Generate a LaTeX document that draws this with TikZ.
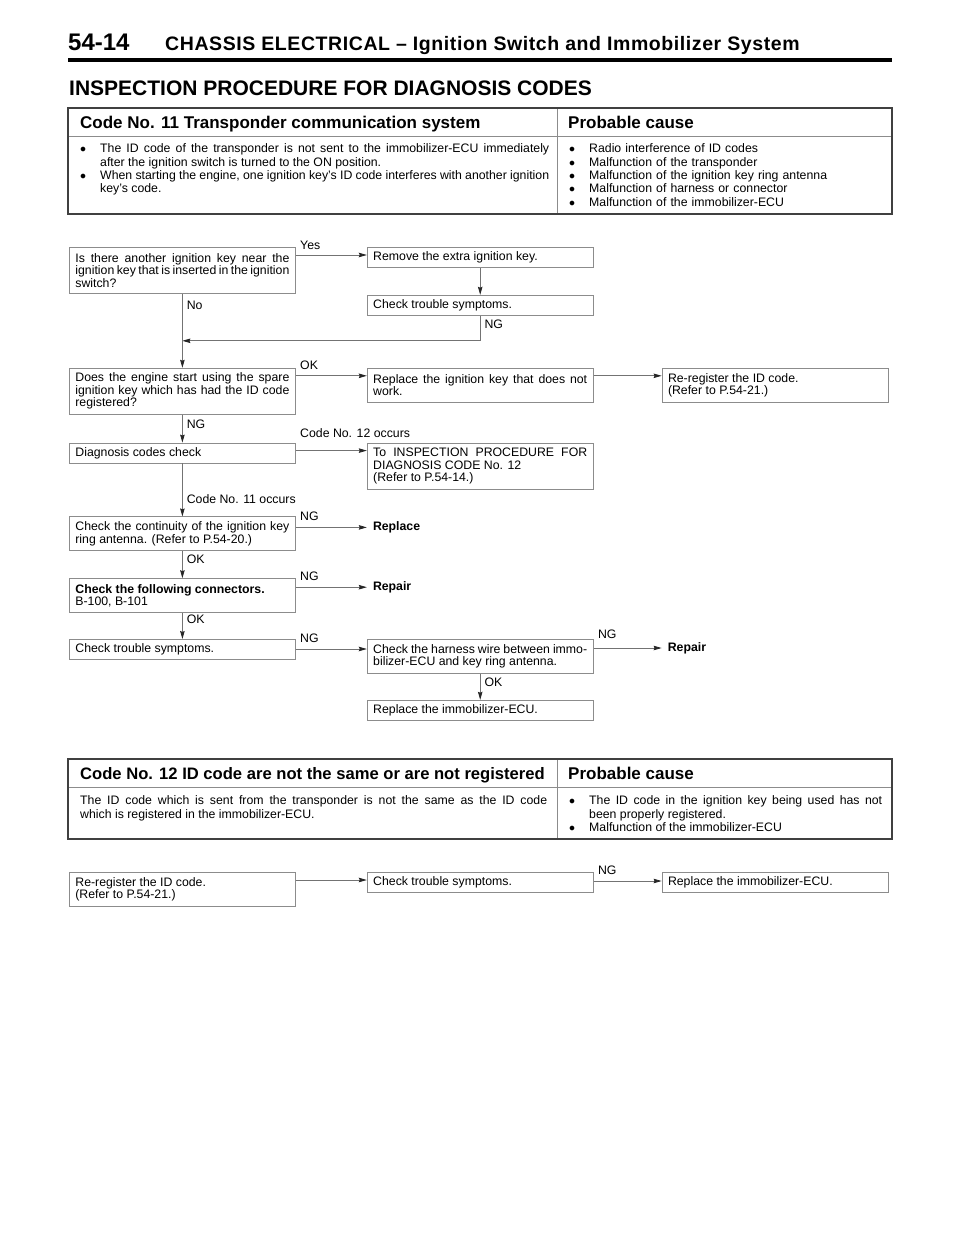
\documentclass[tikz,border=0pt]{standalone}
\usepackage{fontspec}
\setmainfont{Liberation Sans}
\newfontfamily\titlefont[LetterSpace=3.0]{Liberation Sans}
\usetikzlibrary{arrows.meta, positioning}

\newcommand{\flowsize}{\fontsize{12.3}{12.5}\selectfont}
\newcommand{\tablesize}{\fontsize{12.3}{13.4}\selectfont}
\newcommand{\headsize}{\fontsize{17}{20}\selectfont\bfseries}
\newcommand{\causeitem}{\noindent\hangindent=20pt\hangafter=1\makebox[20pt][l]{$\bullet$}}

\begin{document}
\begin{tikzpicture}[x=1pt, y=-1pt]
	\tikzstyle{Box} = [rectangle, draw=black!45, line width=0.8pt, text width=214pt, inner xsep=6pt, inner ysep=3pt, minimum height=20pt, align=justify, font=\flowsize]
	\tikzstyle{BoxTwo} = [Box, minimum height=34pt]
	\tikzstyle{BoxThree} = [Box, minimum height=46pt]
	\tikzstyle{Result} = [rectangle, inner xsep=6pt, inner ysep=2pt, font=\flowsize\bfseries]
	\tikzstyle{HLabel} = [anchor=base west, inner sep=0pt, xshift=4pt, yshift=7pt, font=\flowsize]
	\tikzstyle{VLabel} = [anchor=base west, inner sep=0pt, xshift=4pt, font=\flowsize]
	\tikzstyle{TableHead} = [anchor=base west, inner sep=0pt, font=\headsize]
	\tikzstyle{TableText} = [anchor=north west, inner sep=0pt, align=justify, font=\tablesize]
	\tikzstyle{TableFrame} = [draw=black!75, line width=1.6pt]
	\tikzstyle{TableRule} = [draw=black!45, line width=0.8pt]
	\tikzstyle{arrow} = [draw=black!55, line width=0.8pt, -{Stealth[length=8pt, width=4.5pt, inset=1pt, color=black!85]}]
	
	\fill[white] (0,0) rectangle (960,1242);
	\useasboundingbox (0,0) rectangle (960,1242);
	
	\node (pageNumber) [anchor=base west, inner sep=0pt, font=\fontsize{24}{28}\selectfont\bfseries] at (68,50) {54-14};
	\node (pageTitle) [anchor=base west, inner sep=0pt, font=\titlefont\fontsize{19.5}{22}\selectfont\bfseries] at (165,50) {CHASSIS ELECTRICAL – Ignition Switch and Immobilizer System};
	\draw[line width=3.5pt] (68,60) -- (892,60);
	\node (sectionTitle) [anchor=base west, inner sep=0pt, font=\fontsize{21}{24}\selectfont\bfseries] at (69,95) {INSPECTION PROCEDURE FOR DIAGNOSIS CODES};
	
	% Code No. 11 table
	\draw[TableRule] (68,136) -- (892,136);
	\draw[TableRule] (557,108) -- (557,214);
	\draw[TableFrame] (68,108) rectangle (892,214);
	\node (code11Head) [TableHead] at (80,128) {Code No. 11 Transponder communication system};
	\node (cause11Head) [TableHead] at (568,128) {Probable cause};
	\node (code11Text) [TableText, text width=469pt] at (80,143.5) {\causeitem The ID code of the transponder is not sent to the immobilizer-ECU immediately\linebreak after the ignition switch is turned to the ON position.\par
		\causeitem When starting the engine, one ignition key’s ID code interferes with another ignition\linebreak key’s code.\par};
	\node (cause11Text) [TableText, text width=313pt, align=left] at (569,143.5) {\causeitem Radio interference of ID codes\par
		\causeitem Malfunction of the transponder\par
		\causeitem Malfunction of the ignition key ring antenna\par
		\causeitem Malfunction of harness or connector\par
		\causeitem Malfunction of the immobilizer-ECU\par};
	
	\node (otherKey) [BoxThree, anchor=north west] at (69,247) {Is there another ignition key near the\linebreak ignition key that is inserted in the ignition\linebreak switch?};
	\node (removeKey) [Box, right = 71pt of otherKey.north east, anchor=north west] {Remove the extra ignition key.};
	\node (checkSymptoms1) [Box, below = 27pt of removeKey] {Check trouble symptoms.};
	\coordinate [below = 47pt of otherKey.south] (join);
	
	\node (spareKey) [BoxThree, below = 74pt of otherKey] {Does the engine start using the spare\linebreak ignition key which has had the ID code\linebreak registered?};
	\node (replaceKey) [BoxTwo, right = 71pt of spareKey.north east, anchor=north west] {Replace the ignition key that does not\linebreak work.};
	\node (registerCode1) [BoxTwo, right = 68pt of replaceKey.north east, anchor=north west] {Re-register the ID code.\newline (Refer to P.54-21.)};
	
	\node (codesCheck) [Box, below = 28pt of spareKey] {Diagnosis codes check};
	\node (toCode12) [BoxThree, right = 71pt of codesCheck.north east, anchor=north west] {To INSPECTION PROCEDURE FOR\linebreak DIAGNOSIS CODE No. 12\newline (Refer to P.54-14.)};
	
	\node (antenna) [BoxTwo, below = 53pt of codesCheck] {Check the continuity of the ignition key\linebreak ring antenna. (Refer to P.54-20.)};
	\node (replace) [Result, right = 71pt of antenna.north east, yshift=-11pt] {Replace};
	
	\node (connectors) [BoxTwo, below = 27pt of antenna] {\textbf{Check the following connectors.}\newline B-100, B-101};
	\node (repair1) [Result, right = 71pt of connectors.north east, yshift=-9pt] {Repair};
	
	\node (checkSymptoms2) [Box, below = 26pt of connectors] {Check trouble symptoms.};
	\node (harness) [BoxTwo, right = 71pt of checkSymptoms2.north east, anchor=north west] {Check the harness wire between immo-\linebreak bilizer-ECU and key ring antenna.};
	\node (repair2) [Result, right = 68pt of harness.north east, yshift=-9pt] {Repair};
	\node (replaceECU1) [Box, below = 26pt of harness] {Replace the immobilizer-ECU.};
	
	% Code No. 12 table
	\draw[TableRule] (68,787) -- (892,787);
	\draw[TableRule] (557,759) -- (557,839);
	\draw[TableFrame] (68,759) rectangle (892,839);
	\node (code12Head) [TableHead, font=\fontsize{16.6}{20}\selectfont\bfseries] at (80,779) {Code No. 12 ID code are not the same or are not registered};
	\node (cause12Head) [TableHead] at (568,779) {Probable cause};
	\node (code12Text) [TableText, text width=467pt] at (80,795.5) {The ID code which is sent from the transponder is not the same as the ID code\linebreak which is registered in the immobilizer-ECU.};
	\node (cause12Text) [TableText, text width=313pt] at (569,795.5) {\causeitem The ID code in the ignition key being used has not\linebreak been properly registered.\par
		\causeitem Malfunction of the immobilizer-ECU\par};
	
	\node (registerCode2) [BoxTwo, anchor=north west] at (69,872) {Re-register the ID code.\newline (Refer to P.54-21.)};
	\node (checkSymptoms3) [Box, right = 71pt of registerCode2.north east, anchor=north west] {Check trouble symptoms.};
	\node (replaceECU2) [Box, right = 68pt of checkSymptoms3.north east, anchor=north west] {Replace the immobilizer-ECU.};
	
	
	\draw[arrow] ([yshift=-8pt]otherKey.north east) -- node[HLabel, at start, yshift=-1pt] {Yes} ([yshift=-8pt]removeKey.north west);
	\draw[arrow] (removeKey) -- (checkSymptoms1);
	\draw[arrow] (checkSymptoms1.south) |- node[VLabel, pos=0.26] {NG} (join);
	\draw[arrow] (otherKey) -- node[VLabel, pos=0.21] {No} (spareKey);
	\draw[arrow] ([yshift=-8pt]spareKey.north east) -- node[HLabel, at start, yshift=-1pt] {OK} ([yshift=-8pt]replaceKey.north west);
	\draw[arrow] ([yshift=-8pt]replaceKey.north east) -- ([yshift=-8pt]registerCode1.north west);
	\draw[arrow] (spareKey) -- node[VLabel, midway] {NG} (codesCheck);
	\draw[arrow] ([yshift=-8pt]codesCheck.north east) -- node[HLabel, at start, yshift=6.5pt] {Code No. 12 occurs} ([yshift=-8pt]toCode12.north west);
	\draw[arrow] (codesCheck) -- node[VLabel, pos=0.76] {Code No. 11 occurs} (antenna);
	\draw[arrow] (antenna.east |- replace) -- node[HLabel, at start] {NG} (replace);
	\draw[arrow] (antenna) -- node[VLabel, pos=0.44] {OK} (connectors);
	\draw[arrow] (connectors.east |- repair1) -- node[HLabel, at start] {NG} (repair1);
	\draw[arrow] (connectors) -- node[VLabel, pos=0.42] {OK} (checkSymptoms2);
	\draw[arrow] ([yshift=-10pt]checkSymptoms2.north east) -- node[HLabel, at start] {NG} ([yshift=-10pt]harness.north west);
	\draw[arrow] (harness.east |- repair2) -- node[HLabel, at start, yshift=3pt] {NG} (repair2);
	\draw[arrow] (harness) -- node[VLabel, midway] {OK} (replaceECU1);
	
	\draw[arrow] ([yshift=-8pt]registerCode2.north east) -- ([yshift=-8pt]checkSymptoms3.north west);
	\draw[arrow] ([yshift=-9pt]checkSymptoms3.north east) -- node[HLabel, at start] {NG} ([yshift=-9pt]replaceECU2.north west);
\end{tikzpicture}
\end{document}
